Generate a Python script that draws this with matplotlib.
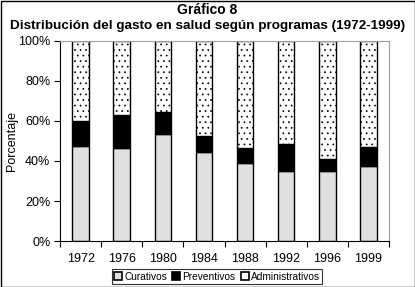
import matplotlib
matplotlib.use("Agg")
import matplotlib.pyplot as plt
import numpy as np
from matplotlib.patches import Rectangle

plt.rcParams['font.family'] = ['Liberation Sans', 'DejaVu Sans']
plt.rcParams['hatch.linewidth'] = 0.5
plt.rcParams['hatch.color'] = '#707070'

years = ['1972', '1976', '1980', '1984', '1988', '1992', '1996', '1999']
curativos = [47.5, 46.3, 53.5, 44.7, 39.0, 35.2, 35.0, 37.5]
preventivos = [12.7, 16.5, 10.8, 8.0, 7.3, 13.1, 6.0, 9.3]
administrativos = [100 - c - p for c, p in zip(curativos, preventivos)]

fig = plt.figure(figsize=(4.15, 2.87), dpi=100)
ax = fig.add_axes([60/415, 1-241/287, 329/415, 200/287])

x = np.arange(len(years))
w = 0.4
ax.bar(x, curativos, w, color='#e0e0e0', edgecolor='black', linewidth=1.0, label='Curativos')
ax.bar(x, preventivos, w, bottom=curativos, color='black', edgecolor='black', linewidth=1.0, label='Preventivos')
bottoms = [c + p for c, p in zip(curativos, preventivos)]
ax.bar(x, administrativos, w, bottom=bottoms, color='white', edgecolor='black', hatch='...',
       linewidth=1.0, label='Administrativos')

ax.set_xlim(-0.5, len(years) - 0.5)
ax.set_ylim(0, 100)
ax.set_yticks(np.arange(0, 101, 20))
ax.set_yticklabels([f'{v}%' for v in range(0, 101, 20)], fontsize=9)
ax.set_xticks(x)
ax.set_xticklabels(years, fontsize=9)
ax.tick_params(axis='x', which='major', length=0, pad=9)
ax.set_xticks(np.arange(-0.5, len(years), 1), minor=True)
ax.tick_params(axis='x', which='minor', length=4, direction='out', width=0.8)
ax.tick_params(axis='y', length=4, direction='out', width=0.8, pad=3)
ax.set_ylabel('Porcentaje', fontsize=9)
ax.yaxis.set_label_coords(-42/329, 0.5)

for s in ['top', 'right']:
    ax.spines[s].set_color('#a0a0a0')
    ax.spines[s].set_linewidth(0.8)
for s in ['left', 'bottom']:
    ax.spines[s].set_color('black')
    ax.spines[s].set_linewidth(0.8)

fig.text(0.5, 1-10/287, 'Gráfico 8', ha='center', va='center', fontsize=10, fontweight='bold')
fig.text(0.5, 1-26/287, 'Distribución del gasto en salud según programas (1972-1999)',
         ha='center', va='center', fontsize=9.7, fontweight='bold')

leg = fig.legend(loc='center', bbox_to_anchor=(217/415, 1-276.5/287), ncol=3, fontsize=7.3,
                 frameon=True, fancybox=False, edgecolor='black', handlelength=0.8, handleheight=0.8,
                 handletextpad=0.2, columnspacing=0.5, borderpad=0.25, borderaxespad=0)
leg.get_frame().set_linewidth(0.8)
for h in leg.legend_handles:
    h.set_hatch(None)
    h.set_linewidth(1.2)

fig.patches.append(Rectangle((0.5/415, 0.5/287), 1-1/415, 1-1/287, transform=fig.transFigure,
                             fill=False, edgecolor='black', linewidth=1.0))

fig.savefig('out.png', dpi=100)
